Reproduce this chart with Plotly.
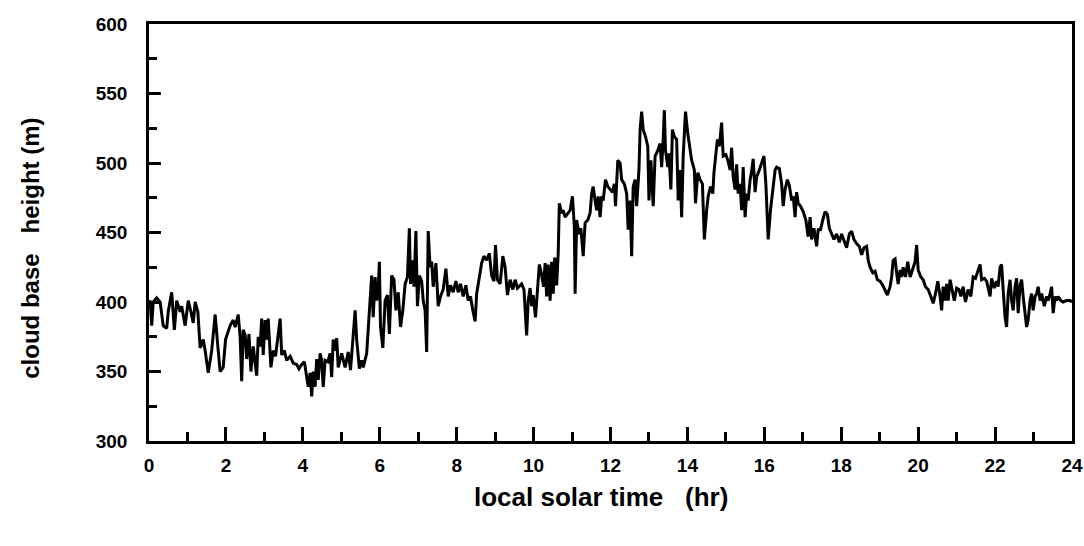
import plotly.graph_objects as go

# ---- data (local solar time in hours, cloud base height in m) ----
time_hr = [
    0.00, 0.03, 0.07, 0.11, 0.20, 0.29, 0.37, 0.46, 0.50, 0.59, 0.66, 0.72, 0.81, 0.85, 0.94,
    1.02, 1.09, 1.15, 1.20, 1.27, 1.33, 1.41, 1.46, 1.54, 1.63, 1.72, 1.79, 1.85, 1.93, 1.99,
    2.11, 2.19, 2.24, 2.32, 2.37, 2.41, 2.45, 2.50, 2.54, 2.60, 2.65, 2.71, 2.80, 2.84, 2.89,
    2.93, 2.97, 3.02, 3.06, 3.10, 3.17, 3.23, 3.29, 3.35, 3.41, 3.45, 3.52, 3.58, 3.67, 3.75,
    3.84, 3.90, 3.97, 4.04, 4.10, 4.14, 4.19, 4.23, 4.27, 4.32, 4.36, 4.40, 4.45, 4.49, 4.53,
    4.58, 4.65, 4.71, 4.75, 4.79, 4.84,
    4.88, 4.92, 5.01, 5.10, 5.18, 5.24, 5.31, 5.36, 5.40, 5.47, 5.53, 5.57, 5.66, 5.75, 5.79,
    5.83, 5.88, 5.92, 5.96, 5.99, 6.02, 6.08, 6.14, 6.20, 6.25, 6.31, 6.37, 6.42, 6.48, 6.54,
    6.60, 6.66, 6.72, 6.77, 6.80, 6.85, 6.89, 6.94, 6.98, 7.03, 7.09, 7.13, 7.18, 7.22, 7.26,
    7.31, 7.35, 7.39, 7.46, 7.52, 7.58, 7.65, 7.72, 7.78, 7.84, 7.91, 7.98, 8.04, 8.10, 8.17,
    8.24, 8.30, 8.36, 8.42, 8.48, 8.52, 8.59, 8.65, 8.71, 8.78, 8.85, 8.91, 8.97, 9.01, 9.06,
    9.13, 9.20, 9.26, 9.32, 9.39, 9.46, 9.52, 9.58, 9.65,
    9.69, 9.75, 9.82, 9.86, 9.91, 9.95, 9.99, 10.05, 10.11, 10.15, 10.20, 10.26, 10.30, 10.34,
    10.38, 10.43, 10.47, 10.51, 10.55, 10.60, 10.64,
    10.67, 10.73, 10.77, 10.82, 10.89, 10.95, 11.01, 11.06, 11.08, 11.12, 11.18, 11.23, 11.29,
    11.34, 11.41, 11.47, 11.51, 11.55, 11.60, 11.64, 11.68, 11.73, 11.77, 11.81, 11.87, 11.93,
    11.99, 12.05, 12.10, 12.13, 12.19, 12.25, 12.29, 12.36, 12.42, 12.46, 12.51, 12.55, 12.59,
    12.64, 12.68, 12.74, 12.77, 12.81, 12.85, 12.91, 12.97, 13.00, 13.05, 13.11, 13.16, 13.23,
    13.29, 13.33, 13.37, 13.40, 13.43, 13.49, 13.52, 13.57, 13.61, 13.66, 13.72, 13.76, 13.81,
    13.85, 13.89, 13.95, 14.01, 14.07, 14.11, 14.18, 14.21, 14.27, 14.33, 14.39, 14.44,
    14.50, 14.54, 14.60, 14.66, 14.69, 14.74, 14.78, 14.83, 14.86, 14.89, 14.93, 15.00, 15.06,
    15.11, 15.15, 15.19, 15.24, 15.28, 15.32, 15.37, 15.41, 15.45, 15.50, 15.54, 15.58, 15.63,
    15.67, 15.71, 15.76, 15.80, 15.87, 15.93, 15.99, 16.04, 16.10, 16.16, 16.22, 16.28, 16.32,
    16.39, 16.45, 16.49, 16.54, 16.60, 16.65, 16.71, 16.75, 16.80, 16.84, 16.88, 16.94, 17.01,
    17.08, 17.14, 17.19, 17.23, 17.29, 17.36, 17.40, 17.46, 17.52, 17.58, 17.64, 17.69, 17.75,
    17.81, 17.88, 17.95, 18.01, 18.07, 18.14, 18.21, 18.27, 18.33, 18.40, 18.47, 18.53, 18.59,
    18.66, 18.70, 18.75, 18.82, 18.88, 18.94, 19.01, 19.08, 19.14, 19.20, 19.27,
    19.31, 19.35, 19.40, 19.44, 19.48, 19.53, 19.57, 19.61, 19.67, 19.73, 19.79, 19.83, 19.87,
    19.92, 19.96, 20.00, 20.07, 20.13, 20.19, 20.26, 20.33, 20.39, 20.45, 20.51, 20.57, 20.61,
    20.65, 20.70, 20.74, 20.78, 20.83, 20.87, 20.94, 21.00, 21.06, 21.11, 21.17, 21.23, 21.30,
    21.37, 21.43, 21.49, 21.56, 21.61, 21.65, 21.72, 21.78, 21.82, 21.87, 21.91, 21.98, 22.04,
    22.08, 22.13, 22.17, 22.21, 22.26, 22.30, 22.34, 22.39, 22.43, 22.47, 22.52, 22.56, 22.60,
    22.65, 22.69, 22.73, 22.78, 22.82, 22.86, 22.91, 22.95, 22.99, 23.04, 23.08, 23.12, 23.17,
    23.21, 23.28, 23.34, 23.38, 23.43, 23.47, 23.51, 23.56, 23.60, 23.64, 23.71, 23.77, 23.86,
    23.95, 24.00,
]

height_m = [
    400, 401, 383, 400, 403, 400, 383, 381, 393, 407, 380, 401, 393, 397, 383,
    401, 393, 385, 400, 393, 367, 373, 365, 349, 365, 391, 368, 350, 353, 373,
    383, 387, 382, 391, 375, 343, 380, 376, 359, 377, 350, 368, 347, 375, 368,
    388, 362, 387, 373, 388, 353, 365, 361, 375, 388, 362, 365, 358, 361, 356,
    355, 352, 355, 357, 346, 339, 349, 332, 350, 339, 359, 344, 363, 358, 339,
    358, 357, 363, 346, 373, 365,
    374, 353, 363, 353, 364, 351, 373, 394, 373, 352, 358, 353, 363, 397, 419,
    389, 418, 401, 409, 429, 382, 367, 401, 405, 377, 419, 416, 394, 407, 382,
    394, 413, 418, 453, 413, 430, 411, 451, 397, 419, 415, 401, 394, 364, 451,
    425, 429, 411, 428, 397, 404, 409, 424, 404, 412, 407, 415, 407, 413, 404,
    412, 401, 404, 394, 386, 406, 419, 428, 433, 430, 435, 419, 415, 441, 416,
    413, 433, 425, 405, 416, 409, 416, 410, 412,
    413, 409, 376, 401, 410, 397, 405, 389, 411, 427, 421, 411, 428, 404,
    427, 401, 429, 406, 432, 412, 435,
    471, 464, 466, 461, 464, 466, 476, 454, 406, 459, 449, 453, 433,
    457, 459, 464, 478, 483, 473, 466, 476, 461, 476, 473, 488, 483,
    481, 479, 485, 469, 502, 500, 488, 485, 478, 452, 473, 433, 483,
    488, 469, 495, 524, 537, 524, 519, 512, 473, 502, 469, 505, 509,
    514, 497, 517, 538, 509, 497, 507, 481, 524, 519, 517, 473, 495,
    461, 505, 537, 521, 509, 502, 495, 471, 493, 488, 485, 445,
    466, 476, 483, 478, 493, 507, 517, 512, 521, 529, 505, 506, 501,
    495, 511, 490, 481, 499, 478, 485, 466, 497, 461, 478, 473, 488,
    494, 503, 479, 490, 495, 501, 505, 485, 445, 466, 483, 495, 497,
    496, 485, 469, 481, 488, 484, 473, 476, 461, 479, 471, 469, 465,
    459, 447, 461, 445, 453, 440, 452, 452, 459, 465, 463, 453, 449,
    445, 449, 443, 449, 445, 439, 449, 451, 445, 442, 440, 434, 439,
    440, 430, 425, 421, 422, 416, 415, 412, 409, 405, 411,
    418, 430, 431, 421, 413, 423, 418, 425, 418, 429, 418, 421, 425,
    429, 441, 423, 418, 416, 411, 409, 404, 399, 406, 415, 404, 394,
    411, 401, 413, 401, 416, 411, 401, 410, 409, 404, 411, 400, 409,
    404, 418, 417, 422, 427, 416, 417, 415, 409, 404, 417, 410, 415,
    411, 425, 427, 409, 389, 382, 406, 416, 401, 394, 411, 417, 392,
    412, 416, 404, 389, 382, 387, 401, 406, 394, 404, 406, 411, 401,
    406, 397, 404, 401, 406, 411, 392, 404, 401, 404, 401, 400, 401,
    401, 400,
]

x_tick_vals = [0, 2, 4, 6, 8, 10, 12, 14, 16, 18, 20, 22, 24]
y_tick_vals = [300, 350, 400, 450, 500, 550, 600]
x_title = "local solar time\u00a0\u00a0 (hr)"
y_title = "cloud base\u00a0\u00a0 height (m)"

FONT = "Liberation Sans"

fig = go.Figure()
fig.add_trace(go.Scatter(
    x=time_hr, y=height_m, mode="lines",
    line=dict(color="black", width=3),
    showlegend=False, hoverinfo="x+y",
))

axis_common = dict(
    showline=True, linecolor="black", linewidth=2.5, mirror=True,
    showgrid=False, zeroline=False,
    ticks="inside", tickcolor="black", tickwidth=2.5,
    tickfont=dict(family=FONT, size=19, color="black", weight="bold"),
)

fig.update_xaxes(
    range=[0, 24], tickvals=x_tick_vals, ticklen=14,
    minor=dict(ticks="inside", dtick=1, ticklen=9, tickcolor="black", tickwidth=2.5),
    ticklabelstandoff=5,
    **axis_common,
)
fig.update_yaxes(
    range=[300, 600], tickvals=y_tick_vals, ticklen=12,
    minor=dict(ticks="inside", dtick=25, ticklen=8, tickcolor="black", tickwidth=2.5),
    ticklabelstandoff=15,
    **axis_common,
)

fig.add_annotation(
    text=x_title, xref="paper", yref="paper", x=0.49, y=-0.135,
    xanchor="center", yanchor="middle", showarrow=False,
    font=dict(family=FONT, size=26, color="black", weight="bold"),
)
fig.add_annotation(
    text=y_title, xref="paper", yref="paper", x=-0.128, y=0.463,
    xanchor="center", yanchor="middle", showarrow=False, textangle=-90,
    font=dict(family=FONT, size=24, color="black", weight="bold"),
)

fig.update_layout(
    width=1084, height=546,
    margin=dict(l=149, r=12, t=24, b=105, autoexpand=False),
    plot_bgcolor="white", paper_bgcolor="white",
)

fig.write_html("out.html")
